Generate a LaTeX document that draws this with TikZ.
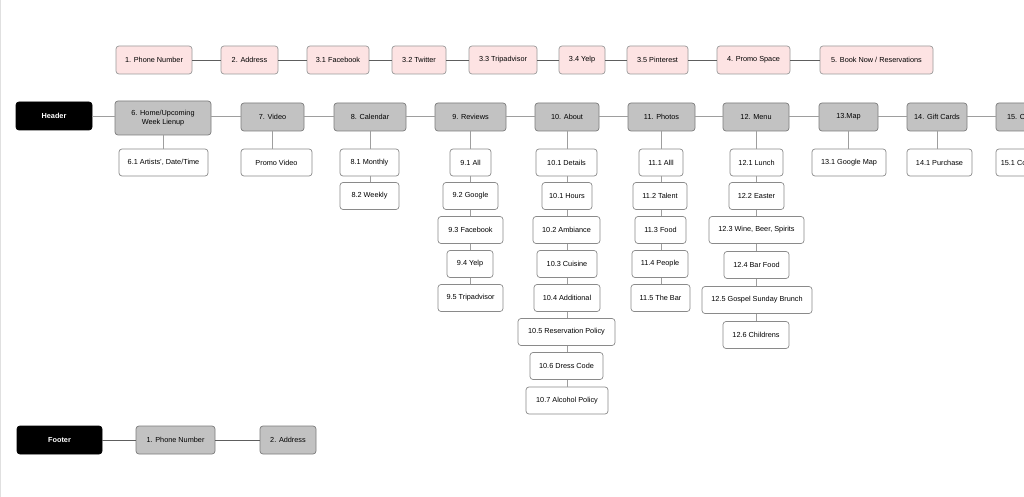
\documentclass[tikz,border=0pt]{standalone}
\usepackage{fontspec}
\setmainfont{Liberation Sans}
\definecolor{pinkfill}{HTML}{FDE3E3}
\definecolor{pinkline}{HTML}{9A9A9A}
\definecolor{grayfill}{HTML}{C2C2C2}
\definecolor{grayline}{HTML}{7C7C7C}
\definecolor{whiteline}{HTML}{8A8A8A}
\definecolor{toplinkc}{HTML}{5E5E5E}
\definecolor{linkc}{HTML}{9E9E9E}
\tikzset{
  box/.style={rounded corners=3pt, line width=0.7pt, inner sep=0pt, minimum height=27pt,
    font=\fontsize{7.3}{8.6}\selectfont, align=center},
  pinkbox/.style={box, fill=pinkfill, draw=pinkline, minimum height=28pt},
  graybox/.style={box, fill=grayfill, draw=grayline, minimum height=28pt},
  whitebox/.style={box, fill=white, draw=whiteline},
  blackbox/.style={box, fill=black, draw=black, text=white, minimum height=28pt,
    font=\fontsize{7.3}{8.6}\selectfont\bfseries},
  toplink/.style={draw=toplinkc, line width=0.7pt},
  link/.style={draw=linkc, line width=0.7pt},
}
\begin{document}
\begin{tikzpicture}[x=1pt,y=-1pt]
\useasboundingbox (0,0) rectangle (1024,497);
\clip (0,0) rectangle (1024,497);
\fill[white] (0,0) rectangle (1024,497);
\draw[black!12, line width=1pt] (0.5,0) -- (0.5,497);

% top row
\node[pinkbox, minimum width=76pt] (t1) at (154,60) {1. Phone Number};
\node[pinkbox, minimum width=57pt] (t2) at (249.5,60) {2. Address};
\node[pinkbox, minimum width=62pt] (t31) at (338,60) {3.1 Facebook};
\node[pinkbox, minimum width=54pt] (t32) at (419,60) {3.2 Twitter};
\node[pinkbox, minimum width=68pt] (t33) at (503,60) {3.3 Tripadvisor};
\node[pinkbox, minimum width=46pt] (t34) at (582,60) {3.4 Yelp};
\node[pinkbox, minimum width=61pt] (t35) at (657.5,60) {3.5 Pinterest};
\node[pinkbox, minimum width=73pt] (t4) at (753.5,60) {4. Promo Space};
\node[pinkbox, minimum width=113pt] (t5) at (876.5,60) {5. Book Now / Reservations};
\foreach \a/\b in {t1/t2,t2/t31,t31/t32,t32/t33,t33/t34,t34/t35,t35/t4,t4/t5}
  \draw[toplink] (\a.east) -- (\b.west);

% header row
\node[blackbox, minimum width=76pt] (hd) at (54,116) {Header};
\node[graybox, minimum width=96pt, minimum height=34pt] (n6) at (163,118) {6. Home/Upcoming\\Week Lienup};
\node[graybox, minimum width=63pt] (n7) at (272.5,117) {7. Video};
\node[graybox, minimum width=72pt] (n8) at (370,117) {8. Calendar};
\node[graybox, minimum width=71pt] (n9) at (470.5,117) {9. Reviews};
\node[graybox, minimum width=64pt] (n10) at (567,117) {10. About};
\node[graybox, minimum width=67pt] (n11) at (661.5,117) {11. Photos};
\node[graybox, minimum width=66pt] (n12) at (756,117) {12. Menu};
\node[graybox, minimum width=59pt] (n13) at (848.5,117) {13.Map};
\node[graybox, minimum width=60pt] (n14) at (937,117) {14. Gift Cards};
\node[graybox, minimum width=60pt] (n15) at (1026,117) {15. Contact};
\foreach \a/\b in {hd/n6,n6/n7,n7/n8,n8/n9,n9/n10,n10/n11,n11/n12,n12/n13,n13/n14,n14/n15}
  \draw[link] (\a.east |- hd.east) -- (\b.west |- hd.east);

% children
\node[whitebox, minimum width=89pt] (c61) at (163.5,162.5) {6.1 Artists', Date/Time};
\node[whitebox, minimum width=71pt] (c71) at (276.5,162.5) {Promo Video};
\node[whitebox, minimum width=59pt] (c81) at (369.5,162.5) {8.1 Monthly};
\node[whitebox, minimum width=59pt] (c82) at (369.5,196) {8.2 Weekly};

\node[whitebox, minimum width=41pt] (c91) at (470.5,162.5) {9.1 All};
\node[whitebox, minimum width=55pt] (c92) at (470.5,196) {9.2 Google};
\node[whitebox, minimum width=65pt] (c93) at (470.5,230) {9.3 Facebook};
\node[whitebox, minimum width=46pt] (c94) at (470,264) {9.4 Yelp};
\node[whitebox, minimum width=65pt] (c95) at (470.5,298) {9.5 Tripadvisor};

\node[whitebox, minimum width=61pt] (c101) at (566.5,162.5) {10.1 Details};
\node[whitebox, minimum width=50pt] (c102) at (567,196) {10.1 Hours};
\node[whitebox, minimum width=67pt] (c103) at (566.5,230) {10.2 Ambiance};
\node[whitebox, minimum width=60pt] (c104) at (567,264) {10.3 Cuisine};
\node[whitebox, minimum width=66pt] (c105) at (567,298) {10.4 Additional};
\node[whitebox, minimum width=97pt] (c106) at (566.5,332) {10.5 Reservation Policy};
\node[whitebox, minimum width=73pt] (c107) at (566.5,366) {10.6 Dress Code};
\node[whitebox, minimum width=82pt] (c108) at (567,400.5) {10.7 Alcohol Policy};

\node[whitebox, minimum width=44pt] (c111) at (661,162.5) {11.1 Alll};
\node[whitebox, minimum width=54pt] (c112) at (660,196) {11.2 Talent};
\node[whitebox, minimum width=51pt] (c113) at (660.5,230) {11.3 Food};
\node[whitebox, minimum width=56pt] (c114) at (660,264) {11.4 People};
\node[whitebox, minimum width=59pt] (c115) at (660.5,298) {11.5 The Bar};

\node[whitebox, minimum width=53pt] (c121) at (756.5,162.5) {12.1 Lunch};
\node[whitebox, minimum width=55pt] (c122) at (756.5,196) {12.2 Easter};
\node[whitebox, minimum width=95pt] (c123) at (756.5,230) {12.3 Wine, Beer, Spirits};
\node[whitebox, minimum width=65pt] (c124) at (756.5,265) {12.4 Bar Food};
\node[whitebox, minimum width=110pt] (c125) at (757,300) {12.5 Gospel Sunday Brunch};
\node[whitebox, minimum width=66pt] (c126) at (756,335) {12.6 Childrens};

\node[whitebox, minimum width=74pt] (c131) at (849,162.5) {13.1 Google Map};
\node[whitebox, minimum width=65pt] (c141) at (939.5,162.5) {14.1 Purchase};
\node[whitebox, minimum width=70pt] (c151) at (1031,162.5) {15.1 Contact Form};

\foreach \a/\b/\p in {n6/c61/n6, n7/c71/n7, n8/c81/n8, c81/c82/n8,
  n9/c91/n9, c91/c92/n9, c92/c93/n9, c93/c94/n9, c94/c95/n9,
  n10/c101/n10, c101/c102/n10, c102/c103/n10, c103/c104/n10, c104/c105/n10,
  c105/c106/n10, c106/c107/n10, c107/c108/n10,
  n11/c111/n11, c111/c112/n11, c112/c113/n11, c113/c114/n11, c114/c115/n11,
  n12/c121/n12, c121/c122/n12, c122/c123/n12, c123/c124/n12, c124/c125/n12, c125/c126/n12,
  n13/c131/n13, n14/c141/n14, n15/c151/n15}
  \draw[link] (\a.south -| \p.south) -- (\b.north -| \p.south);

% footer row
\node[blackbox, minimum width=85pt] (ft) at (59.5,440) {Footer};
\node[graybox, minimum width=79pt] (f1) at (175.5,440) {1. Phone Number};
\node[graybox, minimum width=56pt] (f2) at (288,440) {2. Address};
\draw[toplink] (ft.east) -- (f1.west);
\draw[toplink] (f1.east) -- (f2.west);
\end{tikzpicture}
\end{document}
